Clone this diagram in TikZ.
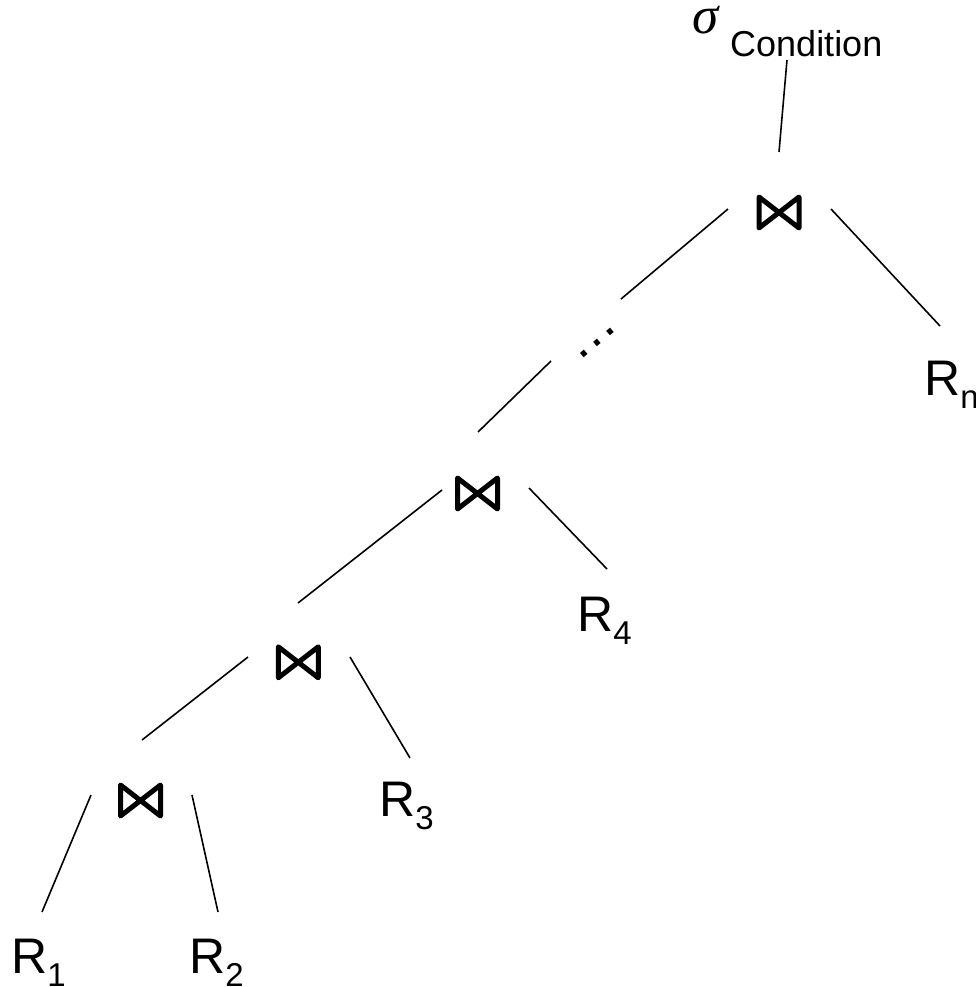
\documentclass[tikz,border=0pt]{standalone}
\usepackage{fontspec}
\setmainfont{Liberation Sans}
\newfontfamily\serifit{Liberation Serif}
\usetikzlibrary{calc}
\newcommand\rsub[1]{\raisebox{-13pt}{\fontsize{33}{33}\selectfont #1}}
\begin{document}
\begin{tikzpicture}[x=1pt,y=-1pt,
  rel/.style={font=\fontsize{50}{50}\selectfont, inner sep=0pt, anchor=base west},
  joinop/.style={minimum width=54pt, minimum height=46pt, inner sep=0pt,
    path picture={\draw[line width=5pt, line join=round]
      ($(path picture bounding box.center)+(-20pt,15.5pt)$) --
      ($(path picture bounding box.center)+(-20pt,-15.5pt)$) --
      ($(path picture bounding box.center)+(20pt,15.5pt)$) --
      ($(path picture bounding box.center)+(20pt,-15.5pt)$) -- cycle;}},
  edge/.style={line width=1.6pt}]
\useasboundingbox (0,0) rectangle (975,987);

% labels
\node[anchor=base west, inner sep=0pt, font=\serifit\itshape\fontsize{53}{53}\selectfont] (sig) at (692,34) {σ};
\node[anchor=base west, inner sep=0pt, font=\fontsize{36}{36}\selectfont] (cond) at (730,57) {Condition};

% join operators
\node[joinop] (j5) at (779,212.5) {};
\node[joinop] (j4) at (477.5,493.5) {};
\node[joinop] (j3) at (298.3,662.3) {};
\node[joinop] (j2) at (140.5,800.5) {};

% relations
\node[rel] (r1) at (11,973) {R\rsub{1}};
\node[rel] (r2) at (189,973) {R\rsub{2}};
\node[rel] (r3) at (379,816) {R\rsub{3}};
\node[rel] (r4) at (577,631) {R\rsub{4}};
\node[rel] (rn) at (924,395) {R\rsub{n}};

% ellipsis
\node[rotate=40, anchor=base, inner sep=0pt, font=\fontsize{54}{54}\selectfont] (dots) at (598.7,345.1) {…};

% connector end points
\coordinate (s0) at (787,60);   \coordinate (s1) at (779,152);
\coordinate (a0) at (728,209);  \coordinate (a1) at (621,299);
\coordinate (b0) at (831,209);  \coordinate (b1) at (940,326);
\coordinate (c0) at (551,361);  \coordinate (c1) at (478,432);
\coordinate (d0) at (442,490);  \coordinate (d1) at (298,603);
\coordinate (e0) at (529,488);  \coordinate (e1) at (607,569);
\coordinate (f0) at (248,657);  \coordinate (f1) at (142,740);
\coordinate (g0) at (350,657);  \coordinate (g1) at (410,758);
\coordinate (h0) at (91,795);   \coordinate (h1) at (42,912);
\coordinate (k0) at (192,795);  \coordinate (k1) at (218,912);

\draw[edge] (s0) -- (s1);
\draw[edge] (a0) -- (a1);
\draw[edge] (b0) -- (b1);
\draw[edge] (c0) -- (c1);
\draw[edge] (d0) -- (d1);
\draw[edge] (e0) -- (e1);
\draw[edge] (f0) -- (f1);
\draw[edge] (g0) -- (g1);
\draw[edge] (h0) -- (h1);
\draw[edge] (k0) -- (k1);
\end{tikzpicture}
\end{document}
